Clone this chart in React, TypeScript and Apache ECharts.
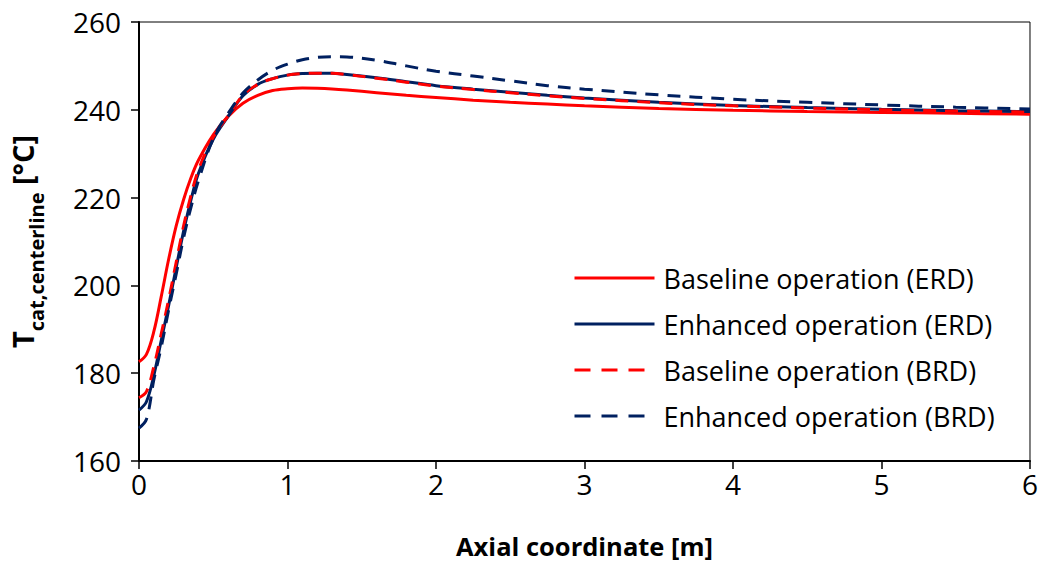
import React, { useEffect, useRef } from "react";
import * as echarts from "echarts";

const axialPositions = [0, 0.05, 0.1, 0.15, 0.2, 0.25, 0.3, 0.35, 0.4, 0.5, 0.6, 0.7, 0.8, 0.9, 1.0, 1.1, 1.2, 1.3, 1.4, 1.6, 1.8, 2.0, 2.25, 2.5, 2.75, 3.0, 3.5, 4.0, 4.5, 5.0, 5.5, 6.0];

const baselineERD = [182.6, 184.3, 189.5, 197.5, 206, 213.5, 219.5, 224.5, 228.5, 234.3, 238.5, 241.5, 243.3, 244.4, 244.8, 244.95, 244.9, 244.75, 244.5, 243.9, 243.3, 242.8, 242.2, 241.7, 241.3, 240.9, 240.3, 239.9, 239.6, 239.4, 239.2, 239.0];
const enhancedERD = [171.6, 173.5, 179.5, 187.5, 195.5, 204, 212.3, 219.5, 225.5, 233.3, 238.5, 243.2, 245.8, 247.1, 247.9, 248.25, 248.35, 248.3, 248.05, 247.3, 246.4, 245.5, 244.7, 244.0, 243.3, 242.7, 241.7, 241.0, 240.5, 240.1, 239.8, 239.6];
const baselineBRD = [174.4, 175.8, 181.5, 189, 196.8, 205.2, 213.5, 220.5, 226.3, 233.8, 238.6, 243.3, 245.8, 247.1, 247.9, 248.25, 248.35, 248.3, 248.0, 247.2, 246.3, 245.4, 244.6, 243.9, 243.2, 242.6, 241.6, 240.9, 240.4, 240.0, 239.7, 239.5];
const enhancedBRD = [167.5, 169.5, 178.5, 186, 194.5, 202.5, 210.8, 217.8, 223.8, 233.5, 239.2, 243.8, 246.8, 249.0, 250.4, 251.4, 251.95, 252.1, 252.05, 251.3, 250.0, 248.8, 247.7, 246.6, 245.5, 244.7, 243.4, 242.4, 241.7, 241.1, 240.6, 240.2];

const seriesNames = ["Baseline operation (ERD)", "Enhanced operation (ERD)", "Baseline operation (BRD)", "Enhanced operation (BRD)"];
const seriesDashed = [false, false, true, true];
const xTicks = [0, 1, 2, 3, 4, 5, 6];
const yTicks = [160, 180, 200, 220, 240, 260];

const RED = "#FF0000";
const NAVY = "#002060";
const FONT = "Open Sans";

export default function App() {
  const ref = useRef<HTMLDivElement>(null);
  useEffect(() => {
    document.body.style.margin = "0";
    const chart = echarts.init(ref.current!, null, { renderer: "svg" });
    const pair = (ys: number[]) => axialPositions.map((x, i) => [x, ys[i]]);
    const mk = (name: string, ys: number[], color: string, dashed: boolean) => ({
      name,
      type: "line",
      data: pair(ys),
      symbol: "none",
      showSymbol: false,
      smooth: 0.35,
      lineStyle: { color, width: 3, type: dashed ? [13, 9] : "solid" },
      itemStyle: { color },
    });
    chart.setOption({
      animation: false,
      grid: { left: 138, right: 9, top: 22, bottom: 110, show: true, borderColor: "#000", borderWidth: 1, backgroundColor: "transparent" },
      legend: {
        orient: "vertical",
        left: 573,
        top: 263,
        padding: 0,
        itemWidth: 80,
        itemHeight: 14,
        itemGap: 16,
        itemStyle: { opacity: 0 },
        lineStyle: { width: 3 },
        data: seriesNames.map((n, i) => ({
          name: n,
          lineStyle: { width: 3, type: seriesDashed[i] ? [16, 11] : "solid" },
        })),
        textStyle: { fontFamily: FONT, fontSize: 27, lineHeight: 30, color: "#000", padding: [0, 0, 0, 4] },
      },
      xAxis: {
        type: "value",
        min: xTicks[0],
        max: xTicks[xTicks.length - 1],
        interval: 1,
        name: "Axial coordinate [m]",
        nameLocation: "middle",
        nameGap: 72,
        nameTextStyle: { fontFamily: FONT, fontSize: 25.5, fontWeight: "bold", color: "#000" },
        axisLine: { lineStyle: { color: "#000", width: 2 } },
        axisTick: { show: true, length: 8, lineStyle: { color: "#000", width: 1.5 } },
        axisLabel: { fontFamily: FONT, fontSize: 28, color: "#000", margin: 9 },
        splitLine: { show: false },
      },
      yAxis: {
        type: "value",
        min: yTicks[0],
        max: yTicks[yTicks.length - 1],
        interval: 20,
        name: "{t|T}{s|cat,centerline}{t| [°C]}",
        nameLocation: "middle",
        nameRotate: 90,
        nameGap: 102,
        nameTextStyle: {
          fontFamily: FONT,
          fontWeight: "bold",
          color: "#000",
          rich: {
            t: { fontFamily: FONT, fontSize: 29, fontWeight: "bold", color: "#000", lineHeight: 40, verticalAlign: "bottom" },
            s: { fontFamily: FONT, fontSize: 20, fontWeight: "bold", color: "#000", lineHeight: 40, verticalAlign: "bottom", padding: [0, 0, -9, 0] },
          },
        },
        axisLine: { show: true, lineStyle: { color: "#000", width: 2 } },
        axisTick: { show: true, length: 8, lineStyle: { color: "#000", width: 1.5 } },
        axisLabel: { fontFamily: FONT, fontSize: 28, color: "#000", margin: 18 },
        splitLine: { show: false },
      },
      series: [
        mk(seriesNames[0], baselineERD, RED, seriesDashed[0]),
        mk(seriesNames[1], enhancedERD, NAVY, seriesDashed[1]),
        mk(seriesNames[2], baselineBRD, RED, seriesDashed[2]),
        mk(seriesNames[3], enhancedBRD, NAVY, seriesDashed[3]),
      ],
    });
    return () => chart.dispose();
  }, []);
  return <div ref={ref} style={{ position: "absolute", left: 0, top: 0, width: 1041, height: 571 }} />;
}
